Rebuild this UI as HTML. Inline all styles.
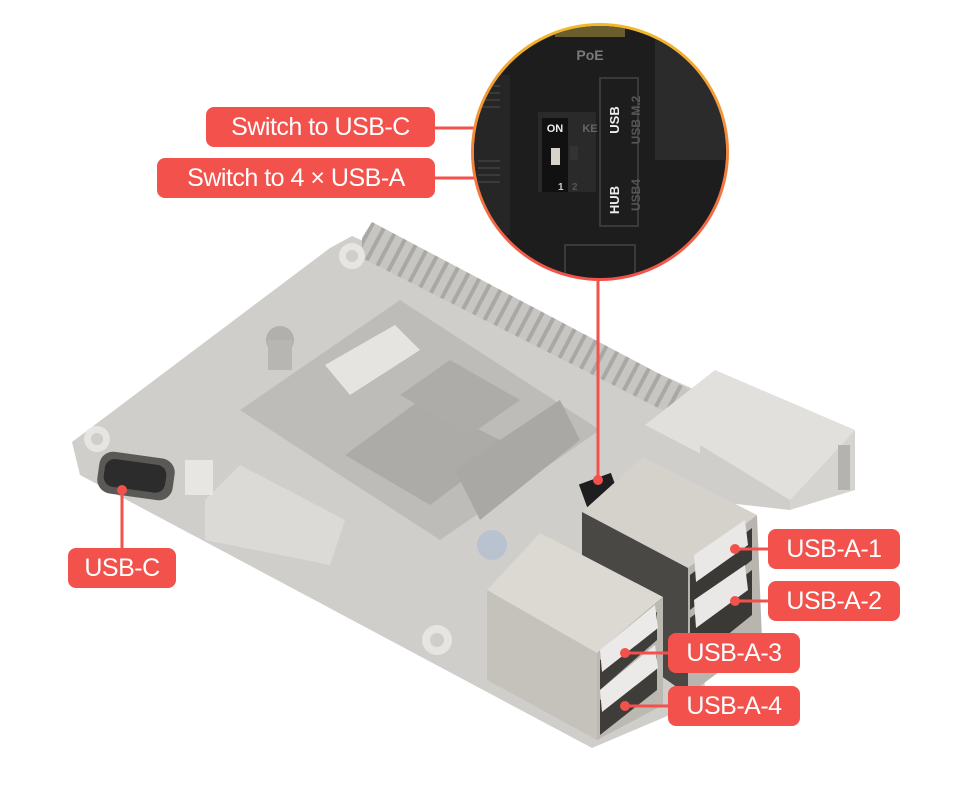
<!DOCTYPE html>
<html><head><meta charset="utf-8"><style>
body{margin:0;background:#fff;width:960px;height:786px;overflow:hidden;position:relative;font-family:"Liberation Sans",sans-serif}
.lb{position:absolute;background:#f2514c;color:#fff;border-radius:8px;font-size:25px;line-height:40px;text-align:center;letter-spacing:-0.5px}
svg{position:absolute;left:0;top:0}
</style></head><body>
<svg width="960" height="786" viewBox="0 0 960 786">
<defs>
<linearGradient id="rg" x1="0" y1="0" x2="0" y2="1"><stop offset="0" stop-color="#f2b92c"/><stop offset="1" stop-color="#f2514c"/></linearGradient>
<pattern id="pins" width="12" height="6" patternUnits="userSpaceOnUse" patternTransform="rotate(28)"><rect width="12" height="6" fill="#c8c6c3"/><rect width="4" height="6" fill="#aaa8a5"/></pattern>
<clipPath id="cc"><circle cx="600" cy="152" r="126"/></clipPath>
</defs>
<polygon points="330,248 352,236 700,392 705,700 592,748 80,475 72,442" fill="#d0cecb"/>
<polygon points="362,238 372,222 690,390 682,420 362,258" fill="url(#pins)"/>
<polygon points="240,410 400,300 600,430 440,540" fill="#bebcb8"/>
<polygon points="325,365 395,325 420,350 350,395" fill="#e6e4e0"/>
<polygon points="345,455 420,400 510,445 430,505" fill="#adaba8"/>
<polygon points="400,395 450,360 520,400 470,435" fill="#aeaca9"/>
<polygon points="455,470 560,400 580,440 480,520" fill="#aaa8a5"/>
<polygon points="205,500 240,465 345,520 330,565 205,540" fill="#dcdad6"/>
<rect x="98" y="455" width="76" height="42" rx="14" fill="#5a5956" transform="rotate(8 136 476)"/>
<rect x="104" y="462" width="62" height="28" rx="10" fill="#2c2c2c" transform="rotate(8 136 476)"/>
<rect x="185" y="460" width="28" height="35" fill="#e8e6e2"/>
<circle cx="352" cy="256" r="13" fill="#e7e5e1"/><circle cx="352" cy="256" r="6" fill="#d0cecb"/>
<circle cx="97" cy="439" r="13" fill="#e7e5e1"/><circle cx="97" cy="439" r="6" fill="#d0cecb"/>
<circle cx="437" cy="640" r="15" fill="#e7e5e1"/><circle cx="437" cy="640" r="7" fill="#d0cecb"/>
<circle cx="280" cy="340" r="14" fill="#b2b0ac"/><rect x="268" y="340" width="24" height="30" fill="#b8b6b2"/>
<circle cx="492" cy="545" r="15" fill="#b9c3d0"/>
<polygon points="645,425 715,370 855,430 790,500" fill="#e2e0dc"/>
<polygon points="790,500 855,430 855,490 790,510" fill="#d6d4d0"/>
<polygon points="700,445 790,500 790,510 700,500" fill="#d0cecb"/>
<rect x="838" y="445" width="12" height="45" fill="#b5b3b0"/>
<rect x="582" y="478" width="34" height="24" fill="#1e1e1e" transform="rotate(-20 599 490)"/>
<polygon points="582,512 643,457 757,515 688,568" fill="#d5d2cc"/>
<polygon points="688,568 757,515 762,640 688,695" fill="#b8b5af"/>
<polygon points="582,512 688,568 688,695 582,620" fill="#4a4845"/>
<polygon points="690,575 752,528 752,560 690,610" fill="#3a3936"/>
<polygon points="690,618 752,570 752,615 690,665" fill="#3a3936"/>
<polygon points="694,555 745,520 748,545 696,582" fill="#e9e8e6"/>
<polygon points="694,600 745,565 748,590 696,628" fill="#e9e8e6"/>
<polygon points="487,590 540,533 663,597 597,653" fill="#dcd9d3"/>
<polygon points="597,653 663,597 663,705 597,740" fill="#bcb9b3"/>
<polygon points="487,590 597,653 597,740 487,680" fill="#c5c2bc"/>
<polygon points="600,660 657,612 657,640 600,690" fill="#3e3d3a"/>
<polygon points="600,700 657,655 657,690 600,735" fill="#3e3d3a"/>
<polygon points="600,650 655,605 658,628 602,672" fill="#eceae8"/>
<polygon points="600,690 655,645 658,668 602,712" fill="#eceae8"/>
<g stroke="#f2514c" stroke-width="3" fill="none">
<line x1="598" y1="280" x2="598" y2="480"/>
<line x1="122" y1="490" x2="122" y2="548"/>
<line x1="735" y1="549" x2="768" y2="549"/>
<line x1="735" y1="601" x2="768" y2="601"/>
<line x1="625" y1="653" x2="668" y2="653"/>
<line x1="625" y1="706" x2="668" y2="706"/>
<line x1="435" y1="128" x2="490" y2="128"/>
<line x1="435" y1="178" x2="490" y2="178"/>
</g>
<g fill="#f2514c"><circle cx="598" cy="480" r="5"/><circle cx="122" cy="490" r="5"/><circle cx="735" cy="549" r="5"/><circle cx="735" cy="601" r="5"/><circle cx="625" cy="653" r="5"/><circle cx="625" cy="706" r="5"/></g>
<circle cx="600" cy="152" r="129" fill="url(#rg)"/>
<circle cx="600" cy="152" r="126" fill="#1d1d1d"/>
<g clip-path="url(#cc)">
<rect x="555" y="25" width="70" height="12" fill="#6b5e2e"/>
<text x="590" y="60" font-size="14" font-weight="bold" fill="#7a7a78" text-anchor="middle">PoE</text>
<rect x="470" y="75" width="40" height="160" fill="#262626"/>
<g fill="#3a3a3a"><rect x="478" y="85" width="22" height="2"/><rect x="478" y="92" width="22" height="2"/><rect x="478" y="99" width="22" height="2"/><rect x="478" y="106" width="22" height="2"/><rect x="478" y="160" width="22" height="2"/><rect x="478" y="167" width="22" height="2"/><rect x="478" y="174" width="22" height="2"/><rect x="478" y="181" width="22" height="2"/></g>
<rect x="538" y="112" width="58" height="80" fill="#2a2a2a"/>
<rect x="542" y="118" width="26" height="74" fill="#111"/>
<rect x="551" y="148" width="9" height="17" fill="#d8d4cc"/>
<rect x="570" y="146" width="8" height="14" fill="#333"/>
<text x="555" y="132" font-size="11" font-weight="bold" fill="#eee" text-anchor="middle">ON</text>
<text x="590" y="132" font-size="11" font-weight="bold" fill="#666" text-anchor="middle">KE</text>
<text x="558" y="190" font-size="10" font-weight="bold" fill="#ccc">1</text>
<text x="572" y="190" font-size="10" font-weight="bold" fill="#555">2</text>
<rect x="600" y="78" width="38" height="148" fill="none" stroke="#3a3a3a" stroke-width="2"/>
<text transform="translate(619,120) rotate(-90)" font-size="13" font-weight="bold" fill="#eee" text-anchor="middle">USB</text>
<text transform="translate(619,200) rotate(-90)" font-size="13" font-weight="bold" fill="#eee" text-anchor="middle">HUB</text>
<text transform="translate(640,120) rotate(-90)" font-size="12" font-weight="bold" fill="#555" text-anchor="middle">USB M.2</text>
<text transform="translate(640,195) rotate(-90)" font-size="12" font-weight="bold" fill="#555" text-anchor="middle">USB4</text>
<rect x="655" y="40" width="70" height="120" fill="#2b2b2b"/>
<rect x="565" y="245" width="70" height="35" fill="none" stroke="#3a3a3a" stroke-width="2"/>
</g>
</svg>
<div class="lb" style="left:206px;top:107px;width:229px">Switch to USB-C</div>
<div class="lb" style="left:157px;top:158px;width:278px">Switch to 4 × USB-A</div>
<div class="lb" style="left:68px;top:548px;width:108px">USB-C</div>
<div class="lb" style="left:768px;top:529px;width:132px">USB-A-1</div>
<div class="lb" style="left:768px;top:581px;width:132px">USB-A-2</div>
<div class="lb" style="left:668px;top:633px;width:132px">USB-A-3</div>
<div class="lb" style="left:668px;top:686px;width:132px">USB-A-4</div>
</body></html>
